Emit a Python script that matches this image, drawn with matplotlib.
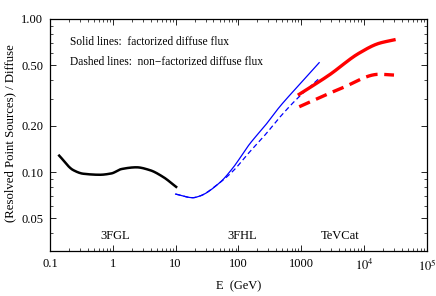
import numpy as np
import matplotlib
matplotlib.use("Agg")
import matplotlib.pyplot as plt
from matplotlib.ticker import FixedLocator, LogLocator, NullFormatter

plt.rcParams['font.family'] = ['Liberation Serif', 'DejaVu Serif']
plt.rcParams['mathtext.fontset'] = 'stix'

# DATA

# 3FGL, black
fgl_E = [0.14, 0.234, 0.339, 0.62, 0.955, 1.37, 2.38, 3.87, 6.3, 10.2]
fgl_r = [0.128, 0.103, 0.0975, 0.096, 0.098, 0.1046, 0.1074, 0.103, 0.093, 0.080]

# 3FHL, blue
fhl_E = [10, 18.8, 24, 50, 81, 150, 276, 447, 1000, 1930]
fhl_solid = [0.0718, 0.068, 0.0696, 0.085, 0.106, 0.152, 0.205, 0.265, 0.384, 0.518]
fhl_dash_E = [10, 18.8, 24, 50, 81, 150, 276, 447, 822, 1930]
fhl_dash = [0.0718, 0.068, 0.0696, 0.085, 0.101, 0.135, 0.178, 0.226, 0.296, 0.409]

# TeVCat, red
tev_E = [930, 2780, 8300, 17300, 30000]
tev_solid = [0.322, 0.43, 0.597, 0.693, 0.73]
tev_dash_E = [930, 4460, 17300, 30000]
tev_dash = [0.267, 0.354, 0.435, 0.43]

x_ticks = [0.1, 1, 10, 100, 1000, 1e4, 1e5]
x_labels = ["0.1", "1", "10", "100", "1000", r"$10^4$", r"$10^5$"]
y_ticks = [0.05, 0.1, 0.2, 0.5, 1.0]
y_labels = ["0.05", "0.10", "0.20", "0.50", "1.00"]


def smooth(x, y, n=200):
    # monotone cubic (pchip-like) interpolation in log-log space
    lx, ly = np.log10(x), np.log10(y)
    t = np.linspace(lx[0], lx[-1], n)
    h = np.diff(lx)
    d = np.diff(ly) / h
    m = np.zeros_like(lx)
    m[0], m[-1] = d[0], d[-1]
    for i in range(1, len(lx) - 1):
        if d[i - 1] * d[i] <= 0:
            m[i] = 0
        else:
            w1 = 2 * h[i] + h[i - 1]
            w2 = h[i] + 2 * h[i - 1]
            m[i] = (w1 + w2) / (w1 / d[i - 1] + w2 / d[i])
    out = np.empty_like(t)
    for j, tv in enumerate(t):
        i = min(max(np.searchsorted(lx, tv) - 1, 0), len(lx) - 2)
        s = (tv - lx[i]) / h[i]
        h00 = 2 * s**3 - 3 * s**2 + 1
        h10 = s**3 - 2 * s**2 + s
        h01 = -2 * s**3 + 3 * s**2
        h11 = s**3 - s**2
        out[j] = h00 * ly[i] + h10 * h[i] * m[i] + h01 * ly[i + 1] + h11 * h[i] * m[i + 1]
    return 10**t, 10**out


fig = plt.figure(figsize=(4.36, 2.96), dpi=100)
ax = fig.add_axes([0.1147, 0.152, 0.8643, 0.784])

ax.plot(*smooth(fgl_E, fgl_r), color="black", lw=1.8)
ax.plot(*smooth(fhl_E, fhl_solid), color="blue", lw=0.9)
ax.plot(*smooth(fhl_dash_E, fhl_dash), color="blue", lw=0.9, dashes=(4, 2.5))
ax.plot(*smooth(tev_E, tev_solid), color="red", lw=2.4)
ax.plot(*smooth(tev_dash_E, tev_dash), color="red", lw=2.4, dashes=(3.5, 2))

ax.set_xscale("log")
ax.set_yscale("log")
ax.set_xlim(0.1, 1e5)
ax.set_ylim(0.0305, 1.0)

ax.xaxis.set_major_locator(FixedLocator(x_ticks))
ax.set_xticklabels(x_labels)
ax.xaxis.set_minor_locator(LogLocator(base=10, subs=np.arange(2, 10)))
ax.xaxis.set_minor_formatter(NullFormatter())
ax.yaxis.set_major_locator(FixedLocator(y_ticks))
ax.set_yticklabels(y_labels)
ax.yaxis.set_minor_locator(FixedLocator([0.03, 0.04, 0.06, 0.07, 0.08, 0.09, 0.3, 0.4, 0.6, 0.7, 0.8, 0.9]))
ax.yaxis.set_minor_formatter(NullFormatter())

ax.tick_params(which="both", direction="in", top=True, right=True, labelsize=9, pad=5)
ax.tick_params(which="major", length=4, width=0.6)
ax.tick_params(which="minor", length=2, width=0.5)
for s in ax.spines.values():
    s.set_linewidth(0.9)

ax.text(0.208, 0.708, "Solid lines:  factorized diffuse flux", fontsize=8.3, va="center")
ax.text(0.208, 0.524, "Dashed lines:  non\u2212factorized diffuse flux", fontsize=8.3, va="center")
ax.text(1.08, 0.0385, "3FGL", fontsize=9, ha="center", va="center")
ax.text(116, 0.0385, "3FHL", fontsize=9, ha="center", va="center")
ax.text(4160, 0.0385, "TeVCat", fontsize=9, ha="center", va="center")

ax.set_xlabel("E  (GeV)", fontsize=9, labelpad=5)
ax.set_ylabel("(Resolved Point Sources) / Diffuse", fontsize=9.2, va="center")
ax.yaxis.set_label_coords(-0.106, 0.51)

fig.savefig("out.png", dpi=100)
